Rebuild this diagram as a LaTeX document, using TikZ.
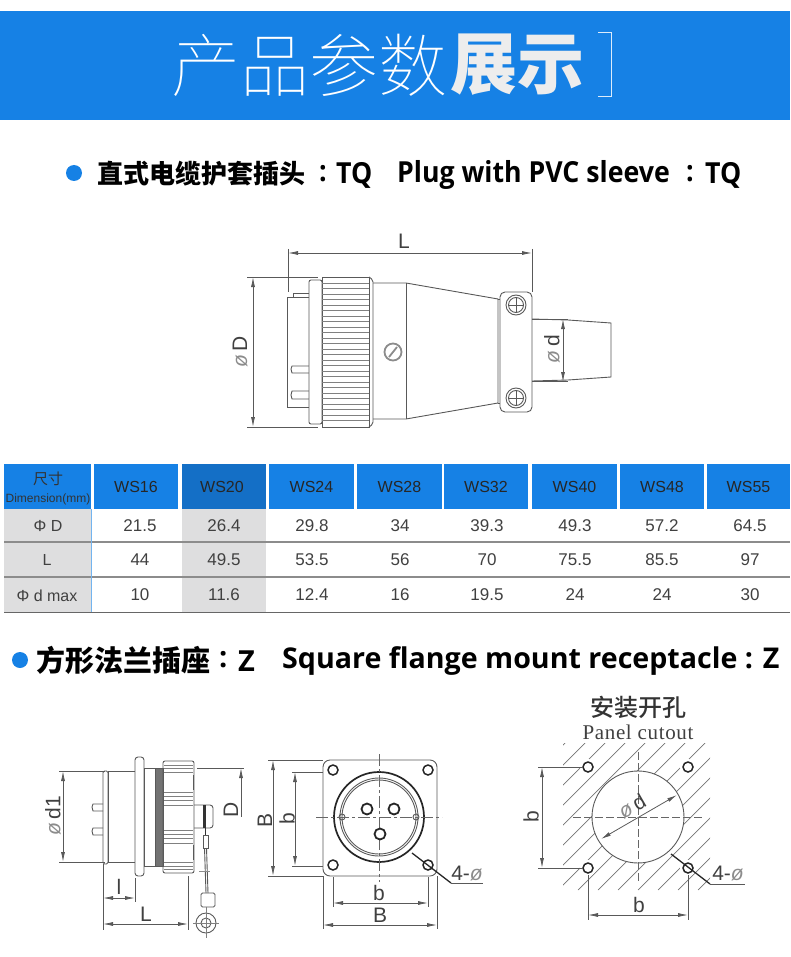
\documentclass[tikz,border=0pt]{standalone}
\usepackage{fontspec}
\setmainfont{Liberation Sans}
\newfontfamily\cjkfont{Noto Sans CJK SC}
\newfontfamily\cjkthin{Noto Sans CJK SC Thin}
\newfontfamily\cjkmedium{Noto Sans CJK SC Medium}
\newfontfamily\headfont{Open Sans}
\newfontfamily\headnarrow[FakeStretch=0.92]{Open Sans}
\newfontfamily\cutfont[LetterSpace=3]{Liberation Serif}
\definecolor{BandBlue}{HTML}{1681E5}
\definecolor{DarkBlue}{HTML}{146FC6}
\definecolor{RowGray}{HTML}{DEDEDF}
\definecolor{LineGray}{HTML}{8C8C8C}
\usetikzlibrary{arrows.meta}
\begin{document}
\begin{tikzpicture}[x=1pt,y=-1pt,
  part/.style={draw=black!65, line width=0.9pt},
  dimline/.style={draw=black!65, line width=0.8pt},
  dimarrow/.style={dimline, {Latex[length=10pt,width=4pt]}-{Latex[length=10pt,width=4pt]}},
  dimtext/.style={font=\fontsize{21}{21}\selectfont, text=black!75, inner sep=0pt},
  centerline/.style={draw=black!60, line width=0.8pt, dash pattern=on 12pt off 3pt on 3pt off 3pt},
  hole/.style={draw=black!85, line width=1.5pt, fill=white},
  cell/.style={font=\fontsize{17}{17}\selectfont, text=black!75, inner sep=0pt},
  headcell/.style={font=\fontsize{16}{16}\selectfont, text=black!85, inner sep=0pt},
  headcn/.style={font=\cjkfont\bfseries\fontsize{#1}{#1}\selectfont, anchor=west, inner sep=0pt},
  headen/.style={font=\headfont\bfseries\fontsize{#1}{#1}\selectfont, anchor=west, inner sep=0pt},
  headnw/.style={font=\headnarrow\bfseries\fontsize{#1}{#1}\selectfont, anchor=west, inner sep=0pt}
]
  \useasboundingbox (0,0) rectangle (790,957);

  % Title band
  \fill[BandBlue] (0,11) rectangle (790,120);
  \node[font=\cjkthin\fontsize{69}{69}\selectfont, text=white, anchor=west, inner sep=0pt] (titlethin) at (171,65) {产品参数};
  \node[font=\cjkfont\bfseries\fontsize{67}{67}\selectfont, text=white!93!black, anchor=west, inner sep=0pt] (titlebold) at (450,65) {展示};
  \draw[white!85!BandBlue, line width=0.8pt] (598,32) -- (611,32) -- (611,96) -- (598,96);

  % First heading
  \fill[BandBlue] (74,173) circle (8);
  \node[headcn=26] (headone) at (97,174) {直式电缆护套插头};
  \node[headnw=29] (headcolonA) at (319,174) {:};
  \node[headnw=29] (headtwo) at (336,175) {TQ};
  \node[headnw=29] (headthree) at (397,175) {Plug with PVC sleeve};
  \node[headnw=29] (headcolonB) at (686,174) {:};
  \node[headnw=29] (headfive) at (705,175) {TQ};

  % Plug drawing
  \draw[part] (287,297) -- (309,297) -- (309,407) -- (287,407) -- cycle;
  \draw[part] (293,297) -- (293,293) -- (309,293);
  \draw[part] (309,366) -- (292,366) -- (291,369) -- (292,373) -- (309,373);
  \draw[part] (309,391) -- (292,391) -- (291,395) -- (292,399) -- (309,399);
  \draw[part, fill=white, rounded corners=2pt] (309,280) rectangle (322,424);
  \draw[part, fill=white] (322,277) rectangle (369,427);
  \foreach \y in {283,288.5,...,422}
    \draw[black!50, line width=0.7pt] (322,\y) -- (369,\y);
  \draw[part, rounded corners=2pt] (369,277) -- (373,280) -- (373,424) -- (369,427);
  \draw[part] (373,283) -- (406,283) -- (498,299) -- (498,403) -- (406,419) -- (373,419);
  \draw[part] (406,283) -- (406,419);
  \draw[part] (498,299) -- (502,299);
  \draw[part] (498,403) -- (502,403);
  \draw[part, fill=white, rounded corners=5pt] (500,292) rectangle (532,412);
  % Sleeve
  \draw[part] (532,319) -- (568,320) -- (611,323) -- (611,377) -- (568,380) -- (532,381);
  % Screws
  \foreach \y in {305,398} {
    \draw[part] (516,\y) circle (10);
    \draw[part] (516,\y) circle (7.5);
    \draw[part] (508.5,\y) -- (523.5,\y);
    \draw[part] (516,\y-7.5) -- (516,\y+7.5);
  }
  \draw[black!45, line width=1.8pt] (393,352) circle (8.5);
  \draw[black!45, line width=1.8pt] (389,357) -- (397,347);

  % Plug dimensions
  \draw[dimarrow] (288,253) -- (532,253);
  \draw[dimline] (288,249) -- (288,292);
  \draw[dimline] (532,249) -- (532,292);
  \node[dimtext] (plugL) at (404,241) {L};
  \draw[dimarrow] (253,277) -- (253,427);
  \draw[dimline] (247,277) -- (318,277);
  \draw[dimline] (247,427) -- (318,427);
  \node[dimtext, rotate=90] (plugD) at (240,352) {\textcolor{black!45}{\textit{ø}}\,D};
  \draw[dimarrow] (563,319) -- (563,382);
  \draw[dimline] (532,319) -- (568,319);
  \draw[dimline] (532,381) -- (568,381);
  \node[dimtext, rotate=90] (plugd) at (552,349) {\textcolor{black!45}{\textit{ø}}\,d};

  % Table: row shading
  \fill[RowGray] (4,509) rectangle (91,612);
  \fill[RowGray] (182,509) rectangle (266,612);
  \foreach \y in {542,577}
    \draw[LineGray, line width=1.2pt] (4,\y) -- (790,\y);
  \draw[black!60, line width=0.8pt] (4,612) -- (790,612);
  \draw[BandBlue!60, line width=1pt] (91,509) -- (91,612);
  % Table: head
  \fill[BandBlue] (4,464) rectangle (91,509);
  \node[font=\cjkfont\fontsize{15}{15}\selectfont, text=black!80, inner sep=0pt] (sizecn) at (48,479) {尺寸};
  \node[font=\fontsize{12}{12}\selectfont, text=black!80, inner sep=0pt] (sizeen) at (48,499) {Dimension(mm)};
  \foreach \xa/\xb/\name in {94/178/WS16,269/354/WS24,357/442/WS28,444/528/WS32,532/617/WS40,620/704/WS48,707/790/WS55} {
    \fill[BandBlue] (\xa,464) rectangle (\xb,509);
    \node[headcell] at ({(\xa+\xb)/2},487) {\name};
  }
  \fill[DarkBlue] (182,464) rectangle (266,509);
  \node[headcell] (headWS) at (222,487) {WS20};
  % Table: row labels
  \node[cell, font=\fontsize{16}{16}\selectfont] (rowD) at (48,526) {Φ D};
  \node[cell, font=\fontsize{16}{16}\selectfont] (rowL) at (47,560) {L};
  \node[cell, font=\fontsize{16}{16}\selectfont] (rowd) at (47,596) {Φ d max};
  % Table: values
  \foreach \x/\va/\vb/\vc in {140/21.5/44/10,224/26.4/49.5/11.6,312/29.8/53.5/12.4,400/34/56/16,487/39.3/70/19.5,575/49.3/75.5/24,662/57.2/85.5/24,750/64.5/97/30} {
    \node[cell] at (\x,526) {\va};
    \node[cell] at (\x,560) {\vb};
    \node[cell] at (\x,595) {\vc};
  }

  % Second heading
  \fill[BandBlue] (20,660) circle (8);
  \node[headcn=29] (headsix) at (36,660) {方形法兰插座};
  \node[headen=29] (headcolonC) at (219,660) {:};
  \node[headen=29] (headseven) at (238,661) {Z};
  \node[headen=28.6] (headeight) at (282,661) {Square flange mount receptacle : Z};

  % Receptacle side view
  \draw[part, rounded corners=1.5pt] (103,771) rectangle (108,864);
  \draw[part] (108,771) rectangle (135,862);
  \draw[part] (103,804) -- (93,804) -- (92,807) -- (93,811) -- (103,811);
  \draw[part] (103,828) -- (93,828) -- (92,831) -- (93,835) -- (103,835);
  \draw[part, fill=white, rounded corners=3pt] (135,757) rectangle (144,876);
  \draw[part] (144,768) rectangle (155,866);
  \draw[part, fill=black!55] (155,768) rectangle (163,866);
  \draw[part, rounded corners=2pt] (163,761) rectangle (194,873);
  \foreach \y in {765,768.5,772,792,796,800,805,830,834,838,843,862,866,869}
    \draw[black!50, line width=0.7pt] (164,\y) -- (193,\y);
  \draw[part] (193,775) -- (193,790);
  \draw[part] (193,845) -- (193,860);
  \draw[part, rounded corners=3pt] (194,805) -- (213,805) -- (213,828) -- (194,828);
  \fill[black!80] (203,805) rectangle (206,828);
  % Lanyard and ring terminal
  \draw[part] (203,835) rectangle (208,848);
  \draw[black!80, line width=0.8pt] (205,828) -- (205,835);
  \draw[part] (204.5,848) -- (206,893);
  \draw[part] (206.5,848) -- (208,893);
  \draw[black!45, line width=0.7pt] (199,871) -- (210,871);
  \draw[part, rounded corners=1.5pt] (201,893) rectangle (215,907);
  \draw[part] (206,923) circle (10);
  \draw[part] (206,923) circle (5);
  \draw[black!50, line width=0.6pt] (193,923) -- (219,923);
  \draw[black!50, line width=0.6pt] (206,907) -- (206,938);

  % Receptacle side dimensions
  \draw[dimarrow] (63,771) -- (63,862);
  \draw[dimline] (59,771) -- (105,771);
  \draw[dimline] (59,862) -- (105,862);
  \node[dimtext, rotate=90] (sided) at (53,816) {\textcolor{black!45}{\textit{ø}}\,d1};
  \draw[dimarrow] (103,898) -- (135,898);
  \draw[dimline] (103,864) -- (103,930);
  \draw[dimline] (135,878) -- (135,902);
  \draw[dimline] (188,876) -- (188,930);
  \node[dimtext] (sidel) at (119,887) {l};
  \draw[dimarrow] (103,924) -- (188,924);
  \node[dimtext] (sideL) at (146,914) {L};
  \draw[dimline, {Latex[length=10pt,width=4pt]}-] (241,768) -- (241,817);
  \draw[dimline] (197,768) -- (244,768);
  \node[dimtext, rotate=90] (sideD) at (231,810) {D};

  % Receptacle front view
  \draw[part, rounded corners=7pt] (323,760) rectangle (437,876);
  \draw[black!85, line width=1.7pt] (379,817) circle (45);
  \draw[part] (379,817) circle (39);
  \draw[part] (379,817) circle (37);
  \draw[part] (342,817) circle (3);
  \draw[part] (416,817) circle (3);
  \draw[centerline] (316,817) -- (442,817);
  \draw[centerline] (379,754) -- (379,882);
  \foreach \x/\y in {367/809,394/809,380/834}
    \draw[black!85, line width=1.8pt, fill=white] (\x,\y) circle (5.5);
  \foreach \x/\y in {333/770,428/770,333/865,428/865}
    \draw[hole] (\x,\y) circle (5);

  % Front view dimensions
  \draw[dimarrow] (273,760) -- (273,876);
  \draw[dimline] (268,760) -- (323,760);
  \draw[dimline] (268,876) -- (323,876);
  \node[dimtext, rotate=90] (frontB) at (265,820) {B};
  \draw[dimarrow] (295,772) -- (295,866);
  \draw[dimline] (292,772) -- (323,772);
  \draw[dimline] (292,866) -- (323,866);
  \node[dimtext, rotate=90] (frontb) at (287,819) {b};
  \draw[dimarrow] (333,903) -- (428,903);
  \draw[dimline] (333,877) -- (333,907);
  \draw[dimline] (428,877) -- (428,907);
  \node[dimtext] (bottomb) at (379,893) {b};
  \draw[dimarrow] (323,925) -- (437,925);
  \draw[dimline] (323,876) -- (323,929);
  \draw[dimline] (437,876) -- (437,929);
  \node[dimtext] (bottomB) at (380,915) {B};
  \draw[black!85, line width=1.3pt] (412,853) -- (451,883);
  \draw[black!65, line width=0.8pt] (451,883) -- (483,883);
  \node[dimtext] (frontfour) at (467,873) {4-\textcolor{black!45}{\textit{ø}}};

  % Panel cutout
  \node[font=\cjkmedium\fontsize{24}{24}\selectfont, text=black!80, inner sep=0pt] (cuttitle) at (638,707) {安装开孔};
  \node[font=\cutfont\fontsize{21}{21}\selectfont, text=black!75, inner sep=0pt] (cutsub) at (638,732) {Panel cutout};
  \begin{scope}[even odd rule]
    \clip (563,743) rectangle (710,890) (638,817) circle (46);
    \foreach \k in {0,...,14}
      \draw[black!55, line width=0.7pt] ({418+20*\k},890) -- ++(147,-147);
  \end{scope}
  \draw[part] (638,817) circle (46);
  \draw[centerline, dash pattern=on 8pt off 3pt] (573,817) -- (704,817);
  \draw[centerline, dash pattern=on 8pt off 3pt] (638,752) -- (638,883);
  \foreach \x/\y in {588/767,688/767,588/868,688/868} {
    \fill[white] (\x,\y) circle (8);
    \draw[hole] (\x,\y) circle (5);
  }
  \draw[dimarrow] (601,839) -- (677,795);
  \node[dimtext, rotate=30] (cutd) at (632,806) {\textcolor{black!45}{\textit{ø}}\,d};

  % Cutout dimensions
  \draw[dimarrow] (542,767) -- (542,868);
  \draw[dimline] (538,767) -- (583,767);
  \draw[dimline] (538,868) -- (583,868);
  \node[dimtext, rotate=90] (cutb) at (531,817) {b};
  \draw[dimarrow] (588,915) -- (688,915);
  \draw[dimline] (588,875) -- (588,920);
  \draw[dimline] (688,875) -- (688,920);
  \node[dimtext] (cutbottom) at (639,905) {b};
  \draw[black!85, line width=1.3pt] (671,854) -- (710,884);
  \draw[black!65, line width=0.8pt] (710,884) -- (745,884);
  \node[dimtext] (cutfour) at (728,873) {4-\textcolor{black!45}{\textit{ø}}};
\end{tikzpicture}
\end{document}
